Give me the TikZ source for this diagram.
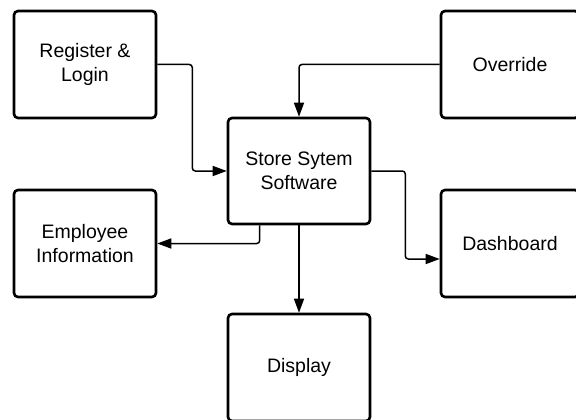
\documentclass[tikz,border=0pt]{standalone}
\usepackage{fontspec}
\setmainfont{Liberation Sans}
\usetikzlibrary{arrows.meta,calc}
\begin{document}
\begin{tikzpicture}[x={(1pt,0)}, y={(0,-1pt)},
  box/.style={draw, line width=2.6pt, rounded corners=4pt, align=center,
    minimum width=142pt, minimum height=107pt, inner sep=0pt,
    font=\fontsize{19.5}{23.5}\selectfont},
  wide/.style={minimum width=138pt},
  link/.style={draw, line width=1.5pt, rounded corners=3pt,
    -{Triangle[length=14pt,width=10pt]}}]
\useasboundingbox (0,0) rectangle (576,420);
\fill[white] (0,0) rectangle (576,420);

\node[box] (reg) at (85,64.5) {Register \&\\Login};
\node[box,wide] (ovr) at (510,64.5) {Override};
\node[box,minimum height=106pt] (sss) at (299,171) {Store Sytem\\Software};
\node[box] (emp) at (85,243.5) {Employee\\Information};
\node[box,wide] (dash) at (510,243.5) {Dashboard};
\node[box] (disp) at (299,367.5) {Display};

\draw[link] (reg.east) -- ++(35,0) |- (sss.west);
\draw[link] (ovr.west) -| (sss.north);
\draw[link] (sss.east) -- ++(34,0) |- ($(dash.west)+(0,15.5)$);
\draw[link] ($(sss.south west)+(33,0)$) |- (emp.east);
\draw[link] (sss.south) -- (disp.north);
\end{tikzpicture}
\end{document}
